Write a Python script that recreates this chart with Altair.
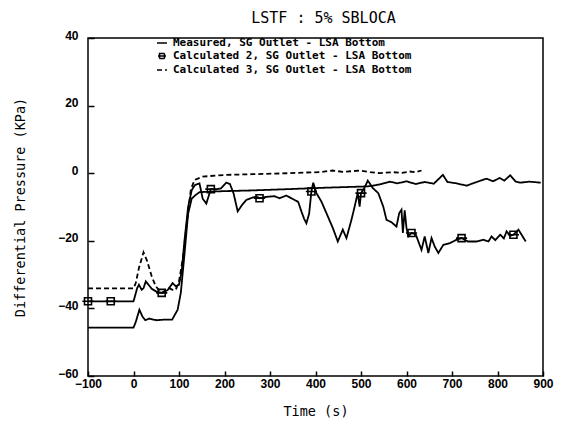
import altair as alt
import pandas as pd

SERIES = [
    "Measured, SG Outlet - LSA Bottom",
    "Calculated 2, SG Outlet - LSA Bottom",
    "Calculated 3, SG Outlet - LSA Bottom",
]

x_ticks = [-100, 0, 100, 200, 300, 400, 500, 600, 700, 800, 900]
y_ticks = [-60, -40, -20, 0, 20, 40]

meas_t = [-100, 0, 5, 13, 20, 26, 35, 50, 70, 85, 97, 104, 112, 120, 128, 137, 145,
          200, 260, 343, 420, 515, 530, 545, 563, 580, 600, 620, 640, 660, 680, 690,
          710, 732, 750, 776, 790, 805, 815, 828, 840, 850, 870, 895]
meas_v = [-45.7, -45.7, -44, -40.4, -42.5, -43.5, -43, -43.5, -43.3, -43.3, -40.4, -35.4,
          -24, -12, -7.5, -6.4, -5.6, -5.3, -5.1, -4.7, -4.3, -3.9, -3.6, -3.2, -2.5,
          -3.0, -2.4, -3.2, -2.6, -3.1, -0.5, -2.6, -3.0, -3.7, -2.8, -1.6, -2.4, -1.4,
          -2.2, -0.6, -2.5, -2.8, -2.5, -2.8]

calc2_t = [-100, 0, 3, 8, 12, 18, 22, 27, 33, 40, 50, 62, 75, 86, 93, 100, 106, 112, 120,
           128, 135, 145, 152, 160, 170, 180, 192, 204, 212, 220, 229, 238, 248, 260, 270,
           277, 292, 310, 321, 336, 348, 354, 362, 369, 375, 380, 386, 391, 395, 402, 413,
           424, 438, 449, 460, 468, 479, 486, 490, 493, 497, 500, 507, 515, 526, 538, 549,
           556, 567, 578, 584, 589, 592, 596, 600, 604, 611, 620, 633, 640, 648, 655, 662,
           670, 681, 695, 710, 721, 735, 754, 769, 780, 787, 795, 806, 814, 820, 828, 835,
           846, 852, 862]
calc2_v = [-37.9, -37.9, -36.5, -34, -33, -34.5, -34, -32, -33, -34.2, -35, -35.4, -34.6,
           -32.5, -33.5, -33, -29, -20, -10, -5, -3.5, -3, -7.5, -9, -4.7, -4.8, -4.5,
           -2.8, -3.2, -6, -11.3, -9.5, -7.9, -7.3, -6.9, -7.4, -7, -6.8, -7.4, -6.6, -7.5,
           -7.9, -8.5, -11.3, -13.5, -14.8, -12, -5.4, -2.8, -5.9, -8.4, -11.8, -16.2,
           -20.2, -16.7, -19.2, -13.8, -9.9, -7.5, -6, -9.9, -5.9, -4.5, -2.2, -4.4, -5.9,
           -9.9, -13.8, -14.5, -15.8, -11.8, -10.8, -17.7, -11, -16.2, -18.7, -17.7, -18,
           -22.7, -18.7, -23.6, -19.2, -21.7, -23.6, -21.2, -20.7, -19.7, -19.2, -20.2,
           -20.2, -19.7, -20.2, -18.7, -19.8, -18.2, -19.3, -17.2, -18.5, -18.2, -16.7,
           -18, -20.2]

calc3_t = [-100, 0, 5, 12, 22, 30, 40, 49, 56, 64, 72, 78, 86, 93, 100, 108, 119, 126,
           134, 152, 203, 260, 343, 380, 410, 437, 460, 480, 497, 520, 541, 570, 590, 607,
           620, 633]
calc3_v = [-34.1, -34.1, -32.5, -28, -23.4, -26, -30.5, -33.5, -34.5, -35.3, -34.5, -34,
           -34.5, -34.5, -32, -25.6, -12.8, -4.9, -2, -1, -0.5, -0.3, 0, 0.2, 0.3, 0.8,
           0.4, 0.6, 0.8, 0.3, 0, 0.3, 0.1, 0.5, 0.3, 0.8]

calc2_mark_t = [-100, -50, 62, 170, 277, 391, 500, 611, 721, 835]
calc2_mark_v = [-37.9, -37.9, -35.4, -4.7, -7.4, -5.4, -5.9, -17.7, -19.2, -18.2]

rows = []
for name, ts, vs in [(SERIES[0], meas_t, meas_v), (SERIES[1], calc2_t, calc2_v),
                     (SERIES[2], calc3_t, calc3_v)]:
    for i, (t, v) in enumerate(zip(ts, vs)):
        rows.append({"series": name, "t": t, "v": v, "order": i})
lines_df = pd.DataFrame(rows)
marks_df = pd.DataFrame({"series": SERIES[1], "t": calc2_mark_t, "v": calc2_mark_v})

legend_props = dict(
    title=None, orient="none", legendX=68, legendY=-1, padding=0,
    labelFont="DejaVu Sans Mono", labelFontSize=11, labelFontWeight="bold",
    labelColor="black", labelLimit=600, symbolSize=100, symbolStrokeWidth=1.5,
    rowPadding=2, labelOffset=5,
)

x_enc = alt.X("t:Q", scale=alt.Scale(domain=[-100, 900], nice=False, zero=False),
              axis=alt.Axis(values=x_ticks, title="Time (s)", offset=-5, tickSize=5,
                            labelPadding=2, titlePadding=15, format="d", labelFlush=False))
y_enc = alt.Y("v:Q", scale=alt.Scale(domain=[-60, 40], nice=False, zero=False),
              axis=alt.Axis(values=y_ticks, title="Differential Pressure (KPa)", offset=-6,
                            tickSize=6, labelPadding=10, labelOffset=-3, titlePadding=30,
                            format="d", labelFlush=False))

lines = alt.Chart(lines_df).mark_line(color="black", strokeWidth=1.8, clip=True).encode(
    x=x_enc, y=y_enc,
    strokeDash=alt.StrokeDash("series:N",
                              scale=alt.Scale(domain=SERIES, range=[[1, 0], [1, 0], [5, 3]]),
                              legend=alt.Legend(**legend_props)),
    order="order:Q",
)

p_line = "M-1,0H1"
p_sq = "M-0.8,0H0.8M-0.5,-0.5H0.5V0.5H-0.5Z"
points = alt.Chart(marks_df).mark_point(filled=False, color="black", strokeWidth=1.6,
                                        size=196, opacity=1).encode(
    x="t:Q", y="v:Q",
    shape=alt.Shape("series:N", scale=alt.Scale(domain=SERIES, range=[p_line, p_sq, p_line]),
                    legend=alt.Legend(**legend_props)),
)

chart = alt.layer(lines, points).properties(
    width=455, height=338,
    title=alt.TitleParams("LSTF :  5% SBLOCA", font="DejaVu Sans Mono", fontSize=15,
                          fontWeight="normal", color="black", offset=3, anchor="middle",
                          dx=8),
    autosize=alt.AutoSizeParams(type="none"),
    padding={"left": 80, "top": 30, "right": 11, "bottom": 47},
    background="white",
).configure_view(
    stroke="black", strokeWidth=1.5
).configure_axis(
    grid=False, domain=False, tickColor="black", tickWidth=1.5,
    labelFont="Liberation Sans", labelFontSize=12, labelFontWeight="bold", labelColor="black",
    titleFont="DejaVu Sans Mono", titleFontSize=13.5, titleFontWeight="normal", titleColor="black",
)

chart.save("out.html", embed_options={"renderer": "svg", "actions": False})
